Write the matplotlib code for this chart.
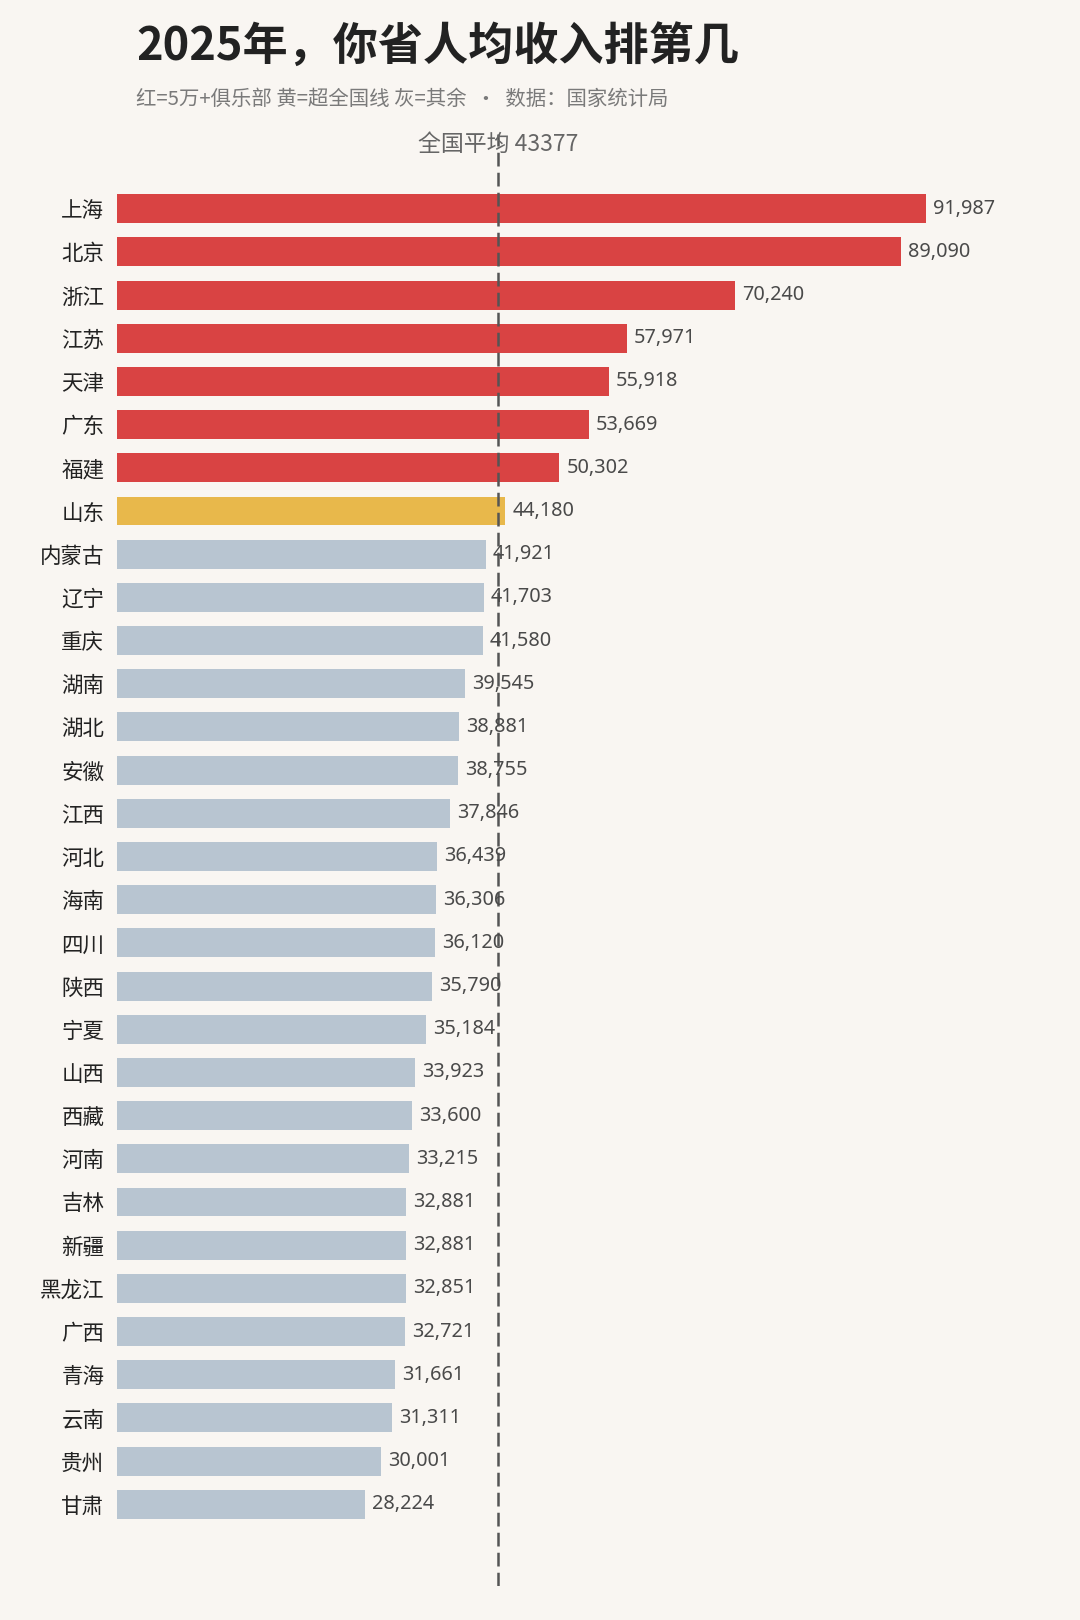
import matplotlib
matplotlib.use("Agg")
import matplotlib.pyplot as plt

plt.rcParams['font.family'] = ['Noto Sans CJK SC', 'DejaVu Sans']

provinces = ["上海", "北京", "浙江", "江苏", "天津", "广东", "福建", "山东",
             "内蒙古", "辽宁", "重庆", "湖南", "湖北", "安徽", "江西", "河北",
             "海南", "四川", "陕西", "宁夏", "山西", "西藏", "河南", "吉林",
             "新疆", "黑龙江", "广西", "青海", "云南", "贵州", "甘肃"]
incomes = [91987, 89090, 70240, 57971, 55918, 53669, 50302, 44180,
           41921, 41703, 41580, 39545, 38881, 38755, 37846, 36439,
           36306, 36120, 35790, 35184, 33923, 33600, 33215, 32881,
           32881, 32851, 32721, 31661, 31311, 30001, 28224]
national_avg = 43377
club_threshold = 50000

title = "2025年，你省人均收入排第几"
subtitle = "红=5万+俱乐部 黄=超全国线 灰=其余  ·  数据：国家统计局"
avg_label = "全国平均 43377"

RED = "#D94343"
YELLOW = "#E8B84B"
GRAY = "#B8C5D1"
BG = "#F9F6F2"

colors = []
for v in incomes:
    if v >= club_threshold:
        colors.append(RED)
    elif v > national_avg:
        colors.append(YELLOW)
    else:
        colors.append(GRAY)

W, H = 1080, 1620
fig = plt.figure(figsize=(W / 100, H / 100), dpi=100, facecolor=BG)

left_px = 113 / 1045
top_px = 130 / 1568
bot_px = 1535 / 1568
ax = fig.add_axes([left_px, 1 - bot_px, 1 - left_px, bot_px - top_px])
ax.set_facecolor(BG)

px_per_unit = (896 - 113) / 91987  # in ref px
xmax = (1045 - 113) / px_per_unit
ax.set_xlim(0, xmax)
spacing = (1456 - 202) / 30
ax.set_ylim((1535 - 202) / spacing, -(202 - 130) / spacing)

ypos = list(range(len(provinces)))
ax.barh(ypos, incomes, height=0.67, color=colors, zorder=2)

for y, v in zip(ypos, incomes):
    ax.text(v + 7 / px_per_unit, y, f"{v:,}", va="center", ha="left",
            fontsize=14.3, color="#4a4a4a", zorder=4,
            family=['Noto Sans', 'DejaVu Sans'])

ax.set_yticks(ypos)
ax.set_yticklabels(provinces, fontsize=15.5, color="#222222")
ax.tick_params(axis='y', length=0, pad=9)
ax.set_xticks([])
for s in ax.spines.values():
    s.set_visible(False)

ax.axvline(national_avg, color="#555555", lw=1.8, ls=(0, (5.5, 2.5)), zorder=3)

ax.text(national_avg, -(202 - 140) / spacing, avg_label, ha="center", va="center",
        fontsize=16.5, color="#666666", zorder=5)

fig.text(132 / 1045, 1 - 45 / 1568, title, fontsize=32.5, fontweight="bold",
         color="#222222", ha="left", va="center")
fig.text(132 / 1045, 1 - 96 / 1568, subtitle, fontsize=14.7, color="#7a7a7a",
         ha="left", va="center")

fig.savefig("out.png", dpi=100, facecolor=BG)
